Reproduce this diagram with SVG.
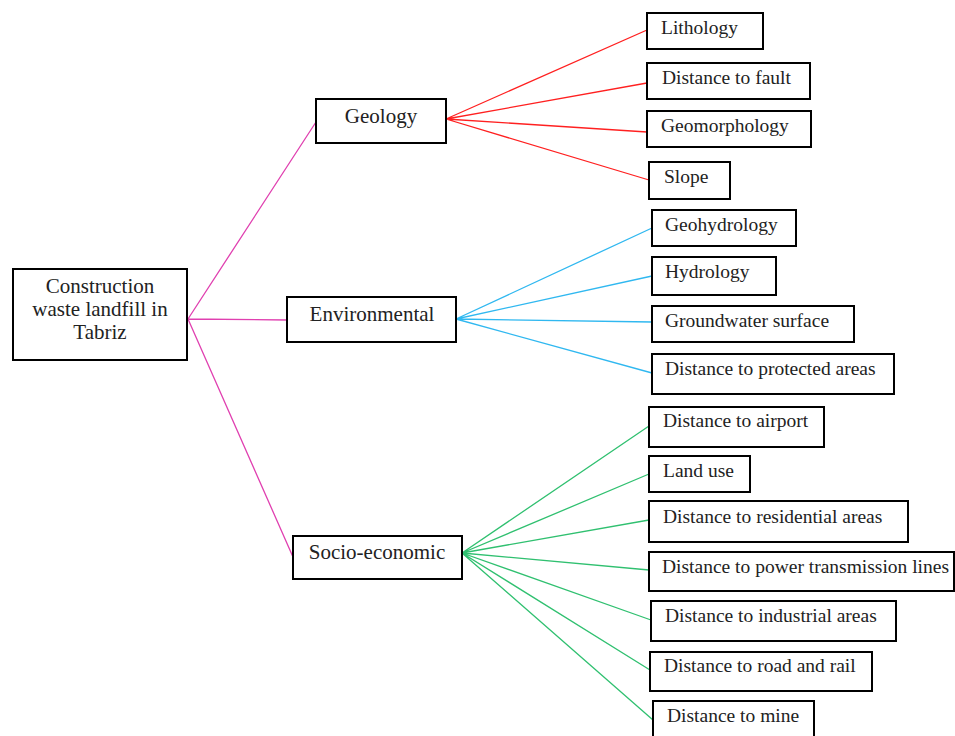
<svg xmlns="http://www.w3.org/2000/svg" width="955" height="736" viewBox="0 0 955 736">
<style>
.box{fill:#fff;stroke:#000;stroke-width:2}
text{font-family:"Liberation Serif","Times New Roman",serif;font-size:19.5px;fill:#222}
.c{text-anchor:middle;font-size:21px}
.pink{stroke:#e040b0;stroke-width:1.3;fill:none}
.red{stroke:#ff2020;stroke-width:1.3;fill:none}
.blue{stroke:#30b8f0;stroke-width:1.3;fill:none}
.green{stroke:#30c070;stroke-width:1.3;fill:none}
</style>
<rect width="955" height="736" fill="#fff"/>
<g id="connectors">
<path class="pink" d="M188 319 L316 122 M188 319 L287 320 M188 319 L293 557"/>
<path class="red" d="M446 119 L647 30 M446 119 L647 83 M446 119 L647 132 M446 119 L649 180"/>
<path class="blue" d="M456 319 L652 228 M456 319 L652 276 M456 319 L652 322 M456 319 L652 373"/>
<path class="green" d="M462 553 L649 426 M462 553 L649 474 M462 553 L649 520 M462 553 L649 570 M462 553 L651 620 M462 553 L650 670 M462 553 L653 720"/>
</g>
<g id="root"><rect class="box" x="13" y="269" width="174" height="91"/>
<text class="c" x="100" y="293">Construction</text>
<text class="c" x="100" y="316">waste landfill in</text>
<text class="c" x="100" y="339">Tabriz</text></g>
<g id="geology"><rect class="box" x="316" y="99" width="130" height="44"/><text class="c" x="381" y="123">Geology</text></g>
<g id="environmental"><rect class="box" x="287" y="297" width="169" height="45"/><text class="c" x="372" y="321">Environmental</text></g>
<g id="socio"><rect class="box" x="293" y="536" width="169" height="43"/><text class="c" x="377" y="559">Socio-economic</text></g>
<g id="lithology"><rect class="box" x="647" y="13" width="116" height="36"/><text x="661" y="34">Lithology</text></g>
<g id="fault"><rect class="box" x="647" y="63" width="163" height="36"/><text x="662" y="84">Distance to fault</text></g>
<g id="geomorphology"><rect class="box" x="647" y="111" width="164" height="36"/><text x="661" y="132">Geomorphology</text></g>
<g id="slope"><rect class="box" x="649" y="162" width="81" height="37"/><text x="664" y="183">Slope</text></g>
<g id="geohydrology"><rect class="box" x="652" y="210" width="144" height="36"/><text x="665" y="231">Geohydrology</text></g>
<g id="hydrology"><rect class="box" x="652" y="257" width="124" height="38"/><text x="665" y="278">Hydrology</text></g>
<g id="groundwater"><rect class="box" x="652" y="306" width="202" height="36"/><text x="665" y="327">Groundwater surface</text></g>
<g id="protected"><rect class="box" x="652" y="354" width="242" height="40"/><text x="665" y="375">Distance to protected areas</text></g>
<g id="airport"><rect class="box" x="649" y="407" width="175" height="40"/><text x="663" y="427">Distance to airport</text></g>
<g id="landuse"><rect class="box" x="649" y="456" width="101" height="36"/><text x="663" y="477">Land use</text></g>
<g id="residential"><rect class="box" x="649" y="501" width="259" height="41"/><text x="663" y="523">Distance to residential areas</text></g>
<g id="power"><rect class="box" x="649" y="552" width="305" height="39"/><text x="662" y="573">Distance to power transmission lines</text></g>
<g id="industrial"><rect class="box" x="651" y="601" width="245" height="40"/><text x="665" y="622">Distance to industrial areas</text></g>
<g id="road"><rect class="box" x="650" y="652" width="222" height="39"/><text x="664" y="672">Distance to road and rail</text></g>
<g id="mine"><rect class="box" x="653" y="701" width="161" height="45"/><text x="667" y="722">Distance to mine</text></g>
</svg>
